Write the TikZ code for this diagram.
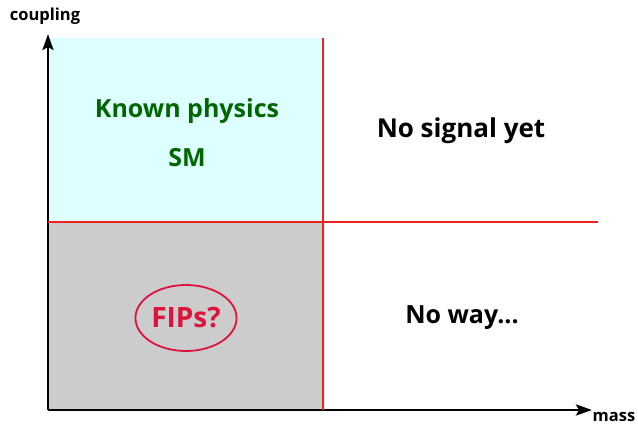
\documentclass[tikz,border=0pt]{standalone}
\usepackage{fontspec}
\setmainfont{Open Sans}
\usepackage{tikz}
\usetikzlibrary{arrows.meta,shapes.geometric}
\definecolor{figline}{RGB}{0,0,0}
\definecolor{figsplit}{RGB}{238,34,34}
\definecolor{figknown}{RGB}{221,255,255}
\definecolor{figfip}{RGB}{204,204,204}
\definecolor{figgreen}{RGB}{0,102,0}
\definecolor{figred}{RGB}{220,20,60}
\tikzset{
  ax/.style   ={draw=figline, line width=2.8pt, -{Stealth[length=16pt,width=11pt,inset=3pt]}},
  split/.style={draw=figsplit, line width=2pt},
  axlab/.style={font=\fontsize{16.5}{18}\selectfont\bfseries, inner sep=1pt},
  lab/.style  ={font=\fontsize{25}{28}\selectfont\bfseries, inner sep=1pt},
  labr/.style ={font=\fontsize{26}{28}\selectfont\bfseries, inner sep=1pt},
}

\begin{document}
\begin{tikzpicture}[x=1pt,y=-1pt]
  \useasboundingbox (0,0) rectangle (638,426);
  % regions
  \fill[figknown] (48,38) rectangle (323,222);
  \fill[figfip] (48,222) rectangle (323,410);
  % axes
  \coordinate (o) at (48,410);
  \coordinate (ytop) at (48,34);
  \coordinate (xend) at (592,410);
  \draw[ax] (o) -- (ytop);
  \draw[ax] (o) -- (xend);
  \node[axlab] (coupling) at (45,16) {coupling};
  \node[axlab] (mass) at (614,417) {mass};
  % split lines
  \coordinate (vtop) at (323,38);
  \coordinate (vbot) at (323,410);
  \coordinate (hl) at (48,222);
  \coordinate (hr) at (598,222);
  \draw[split] (vtop) -- (vbot);
  \draw[split] (hl) -- (hr);
  % labels
  \node[lab,text=figgreen] (known) at (187,111) {Known physics};
  \node[lab,text=figgreen] (sm) at (187,158) {SM};
  \node[labr] (nosignal) at (461,131) {No signal yet};
  \node[lab] (noway) at (462,318) {No way...};
  \node[lab,font=\fontsize{28}{30}\selectfont\bfseries,text=figred,draw=figred,
    ellipse,line width=1.8pt,minimum width=100pt,minimum height=66pt] (fips) at (186,318) {FIPs?};
\end{tikzpicture}
\end{document}
